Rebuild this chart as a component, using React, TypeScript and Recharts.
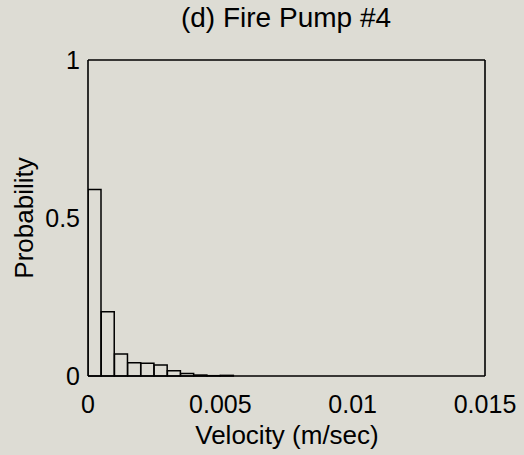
import React from "react";
import { ComposedChart, Bar, XAxis, YAxis } from "recharts";

// histogram bins (bin centres, m/sec) and the probability of each bin
const binCenters = [
  0.00025, 0.00075, 0.00125, 0.00175, 0.00225, 0.00275, 0.00325, 0.00375,
  0.00425, 0.00475, 0.00525,
];
const probability = [
  0.59, 0.203, 0.07, 0.042, 0.04, 0.035, 0.017, 0.008, 0.003, 0.001, 0.002,
];

const xTicks = [0, 0.005, 0.01, 0.015];
const yTicks = [0, 0.5, 1];

const data = binCenters.map((v, i) => ({ v, p: probability[i] }));

const bg = "#dddcd4";
const font = "'Liberation Sans', Arial, Helvetica, sans-serif";
const tickStyle = { fill: "#000", fontSize: 25, fontFamily: font };
const frameLine = { stroke: "#000", strokeWidth: 1.6 };

export default function App() {
  return (
    <div
      style={{
        position: "absolute",
        left: 0,
        top: 0,
        width: 524,
        height: 455,
        background: bg,
        fontFamily: font,
        color: "#000",
      }}
    >
      <div
        style={{
          position: "absolute",
          left: 286,
          top: 18,
          transform: "translate(-50%, -50%)",
          fontSize: 28,
          whiteSpace: "nowrap",
        }}
      >
        (d) Fire Pump #4
      </div>
      <div
        style={{
          position: "absolute",
          left: 287,
          top: 435,
          transform: "translate(-50%, -50%)",
          fontSize: 26,
          whiteSpace: "nowrap",
        }}
      >
        Velocity (m/sec)
      </div>
      <div
        style={{
          position: "absolute",
          left: 24,
          top: 218,
          transform: "translate(-50%, -50%) rotate(-90deg)",
          fontSize: 26,
          whiteSpace: "nowrap",
        }}
      >
        Probability
      </div>
      <ComposedChart
        width={524}
        height={455}
        data={data}
        margin={{ top: 60, right: 39, bottom: 49, left: 48 }}
        barCategoryGap={0}
        barGap={0}
        style={{ position: "absolute", left: 0, top: 0 }}
      >
        {/* labelled axes, ticks drawn by the mirrored copies */}
        <XAxis
          xAxisId="bottom"
          dataKey="v"
          type="number"
          domain={[0, 0.015]}
          ticks={xTicks}
          tickFormatter={(t) => String(t)}
          height={30}
          tick={tickStyle}
          tickLine={false}
          tickMargin={13}
          axisLine={frameLine}
          allowDataOverflow
        />
        <YAxis
          yAxisId="left"
          type="number"
          domain={[0, 1]}
          ticks={yTicks}
          tickFormatter={(t) => String(t)}
          width={40}
          tick={tickStyle}
          tickLine={false}
          tickMargin={2}
          axisLine={frameLine}
        />
        {/* inward ticks + frame */}
        <XAxis
          xAxisId="bottomIn"
          type="number"
          domain={[0, 0.015]}
          ticks={xTicks}
          tick={false}
          mirror
          tickSize={5}
          axisLine={false}
          tickLine={{ stroke: "#000" }}
        />
        <XAxis
          xAxisId="top"
          orientation="top"
          type="number"
          domain={[0, 0.015]}
          ticks={xTicks}
          tick={false}
          mirror
          tickSize={5}
          axisLine={frameLine}
          tickLine={{ stroke: "#000" }}
        />
        <YAxis
          yAxisId="leftIn"
          type="number"
          domain={[0, 1]}
          ticks={yTicks}
          tick={false}
          mirror
          tickSize={5}
          axisLine={false}
          tickLine={{ stroke: "#000" }}
        />
        <YAxis
          yAxisId="right"
          orientation="right"
          type="number"
          domain={[0, 1]}
          ticks={yTicks}
          tick={false}
          mirror
          tickSize={5}
          axisLine={frameLine}
          tickLine={{ stroke: "#000" }}
        />
        <Bar
          xAxisId="bottom"
          yAxisId="left"
          dataKey="p"
          fill={bg}
          stroke="#000"
          strokeWidth={1.5}
          isAnimationActive={false}
        />
      </ComposedChart>
    </div>
  );
}
